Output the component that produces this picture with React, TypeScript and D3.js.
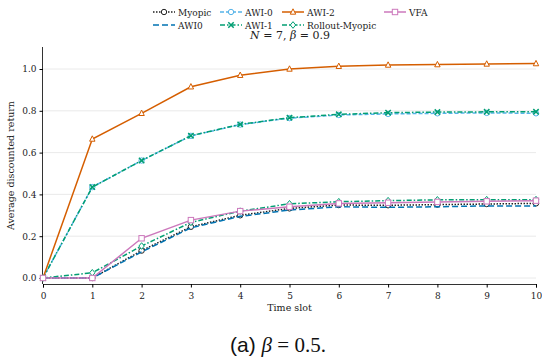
import { useEffect, useRef } from 'react'
import * as d3 from 'd3'

const slots = [0, 1, 2, 3, 4, 5, 6, 7, 8, 9, 10]
const myopic = [0, 0, 0.131, 0.245, 0.300, 0.333, 0.349, 0.348, 0.351, 0.354, 0.357]
const awi0b = [0, 0, 0.125, 0.240, 0.295, 0.325, 0.341, 0.338, 0.341, 0.345, 0.345]
const awiZero = [0, 0.435, 0.562, 0.680, 0.734, 0.765, 0.780, 0.785, 0.788, 0.790, 0.788]
const awiOne = [0, 0.435, 0.562, 0.681, 0.735, 0.767, 0.783, 0.791, 0.794, 0.795, 0.795]
const awiTwo = [0, 0.665, 0.788, 0.915, 0.970, 1.0, 1.013, 1.019, 1.021, 1.024, 1.026]
const rollout = [0, 0.025, 0.153, 0.266, 0.320, 0.355, 0.365, 0.370, 0.374, 0.375, 0.375]
const vfa = [0, 0, 0.19, 0.277, 0.320, 0.341, 0.357, 0.360, 0.364, 0.367, 0.370]
const yTicks = [0, 0.2, 0.4, 0.6, 0.8, 1.0]

type Mk = 'circle' | 'triangle' | 'x' | 'diamond' | 'square' | 'none'
interface S { name: string; vals: number[]; color: string; dash: string; marker: Mk }
const series: S[] = [
  { name: 'Myopic', vals: myopic, color: '#222', dash: '1.5,1.5', marker: 'circle' },
  { name: 'AWI0', vals: awi0b, color: '#0173b2', dash: '6,3', marker: 'none' },
  { name: 'AWI-0', vals: awiZero, color: '#56b4e9', dash: '4,2', marker: 'circle' },
  { name: 'AWI-1', vals: awiOne, color: '#029e73', dash: '5,2,1.5,2', marker: 'x' },
  { name: 'AWI-2', vals: awiTwo, color: '#d55e00', dash: '', marker: 'triangle' },
  { name: 'Rollout-Myopic', vals: rollout, color: '#029e73', dash: '5,2,1.5,2', marker: 'diamond' },
  { name: 'VFA', vals: vfa, color: '#cc78bc', dash: '', marker: 'square' },
]
// legend slots, matplotlib ncol=4 column-major
const legendPos = [[153, 12], [153, 25], [220, 12], [220, 25], [282, 12], [282, 25], [384, 12]]

const SERIF = 'DejaVu Serif'

function drawMarker(g: d3.Selection<SVGGElement, unknown, null, undefined>, m: Mk, x: number, y: number, c: string) {
  const sz = 2.7
  if (m === 'circle') g.append('circle').attr('cx', x).attr('cy', y).attr('r', sz).attr('fill', 'white').attr('stroke', c).attr('stroke-width', 1)
  else if (m === 'square') g.append('rect').attr('x', x - sz).attr('y', y - sz).attr('width', sz * 2).attr('height', sz * 2).attr('fill', 'white').attr('stroke', c).attr('stroke-width', 1)
  else if (m === 'triangle') g.append('path').attr('d', `M${x},${y - sz - 0.5}L${x + sz},${y + sz - 0.5}L${x - sz},${y + sz - 0.5}Z`).attr('fill', 'white').attr('stroke', c).attr('stroke-width', 1)
  else if (m === 'diamond') g.append('path').attr('d', `M${x},${y - sz - 0.6}L${x + sz},${y}L${x},${y + sz + 0.6}L${x - sz},${y}Z`).attr('fill', 'white').attr('stroke', c).attr('stroke-width', 1)
  else if (m === 'x') g.append('path').attr('d', `M${x - sz},${y - sz}L${x + sz},${y + sz}M${x - sz},${y + sz}L${x + sz},${y - sz}`).attr('stroke', c).attr('stroke-width', 1.5)
}

export default function App() {
  const ref = useRef<SVGSVGElement>(null)

  useEffect(() => {
    const svg = d3.select(ref.current!)
    svg.selectAll('*').remove()
    const W = 542, H = 362
    const m = { l: 43, r: 6, t: 47, b: 78 }
    const x = d3.scaleLinear().domain([0, 10]).range([m.l, W - m.r])
    const y = d3.scaleLinear().domain([0, 1]).range([278, 69])

    svg.append('rect').attr('width', W).attr('height', H).attr('fill', 'white')

    // grid
    svg.append('g').selectAll('line').data(yTicks).join('line')
      .attr('x1', m.l).attr('x2', W - m.r).attr('y1', d => y(d)).attr('y2', d => y(d))
      .attr('stroke', '#e5e5e5').attr('stroke-width', 0.8)

    // axes
    const ax = svg.append('g').attr('transform', `translate(0,${H - m.b})`)
      .call(d3.axisBottom(x).tickValues(slots).tickSize(3.5).tickFormat(d => `${d}`))
    ax.attr('font-family', SERIF)
    ax.select('.domain').attr('stroke', '#333').attr('stroke-width', 1)
    ax.selectAll('text').style('font-family', SERIF).attr('font-size', 9).attr('fill', '#222').attr('dy', '0.9em')
    const ay = svg.append('g').attr('transform', `translate(${m.l},0)`)
      .call(d3.axisLeft(y).tickValues(yTicks).tickSize(3.5).tickFormat(d3.format('.1f')))
    ay.attr('font-family', SERIF)
    ay.select('.domain').attr('d', `M-0.5,${m.t}V${H - m.b}`).attr('stroke', '#333').attr('stroke-width', 1)
    ay.selectAll('text').style('font-family', SERIF).attr('font-size', 9).attr('fill', '#222')

    svg.append('text').attr('x', (m.l + W - m.r) / 2).attr('y', 311).attr('text-anchor', 'middle')
      .style('font-family', SERIF).attr('font-size', 9.5).attr('fill', '#222').text('Time slot')
    svg.append('text').attr('transform', `translate(14,${(m.t + H - m.b) / 2}) rotate(-90)`).attr('text-anchor', 'middle')
      .style('font-family', SERIF).attr('font-size', 9.5).attr('fill', '#222').text('Average discounted return')

    // title
    const t = svg.append('text').attr('x', 290).attr('y', 39).attr('text-anchor', 'middle')
      .style('font-family', SERIF).attr('font-size', 11).attr('fill', '#222')
    t.append('tspan').attr('font-style', 'italic').text('N')
    t.append('tspan').text(' = 7, ')
    t.append('tspan').attr('font-style', 'italic').text('β')
    t.append('tspan').text(' = 0.9')

    // lines
    const line = d3.line<number>().x((_, i) => x(slots[i])).y(v => y(v))
    series.forEach(s => {
      const g = svg.append('g')
      g.append('path').datum(s.vals).attr('fill', 'none').attr('stroke', s.color).attr('stroke-width', 1.5)
        .attr('stroke-dasharray', s.dash || null).attr('d', line)
      s.vals.forEach((v, i) => drawMarker(g, s.marker, x(slots[i]), y(v), s.color))
    })

    // legend
    series.forEach((s, i) => {
      const [lx, ly] = legendPos[i]
      const g = svg.append('g')
      g.append('line').attr('x1', lx).attr('x2', lx + 22).attr('y1', ly).attr('y2', ly)
        .attr('stroke', s.color).attr('stroke-width', 1.5).attr('stroke-dasharray', s.dash || null)
      drawMarker(g, s.marker, lx + 11, ly, s.color)
      g.append('text').attr('x', lx + 25).attr('y', ly + 3.5).style('font-family', SERIF).attr('font-size', 9)
        .attr('fill', '#222').text(s.name)
    })

    // caption
    const c = svg.append('text').attr('x', 278).attr('y', 352).attr('text-anchor', 'middle').attr('font-size', 21)
      .attr('fill', '#111').style('font-family', 'Liberation Serif')
    c.append('tspan').style('font-family', 'Liberation Sans').text('(a) ')
    c.append('tspan').attr('font-style', 'italic').text('β')
    c.append('tspan').text(' = 0.5.')
  }, [])

  return <svg ref={ref} width={542} height={362} style={{ position: 'absolute', left: 0, top: 0 }} />
}
